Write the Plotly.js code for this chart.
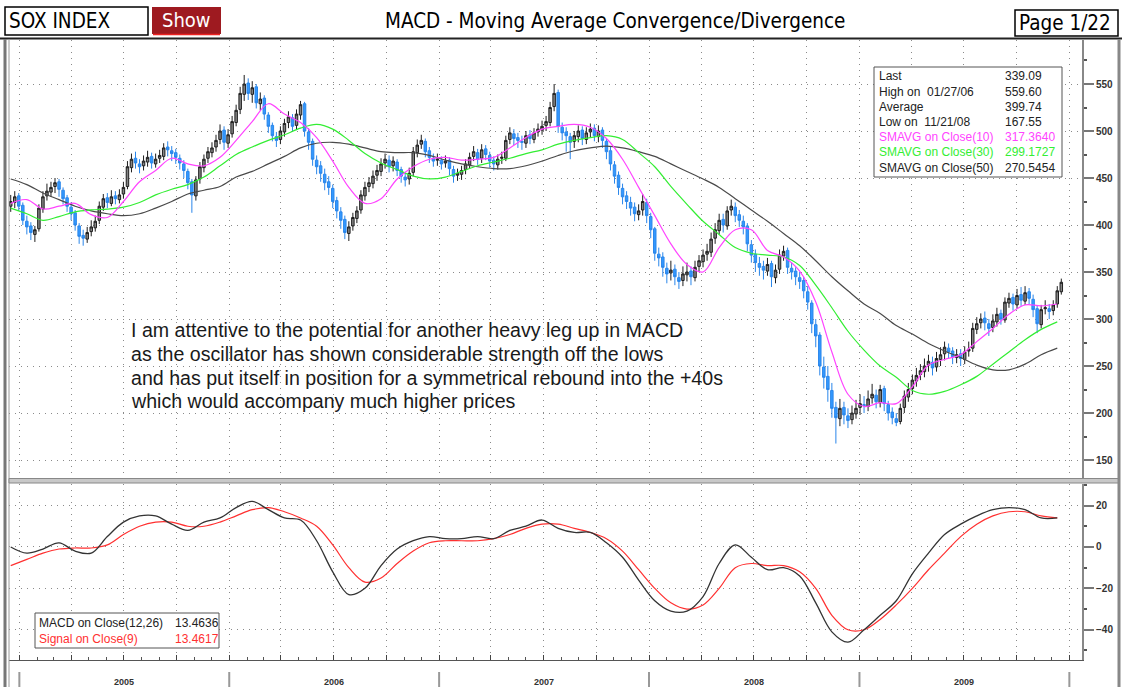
<!DOCTYPE html>
<html><head><meta charset="utf-8">
<script src="https://cdn.plot.ly/plotly-3.0.1.min.js"></script>
<style>html,body{margin:0;padding:0;background:#fff;}#chart{width:1122px;height:687px;}</style>
</head><body><div id="chart"></div>
<script>
// ---- DATA (weekly SOX index) ----
const firstWeek = '2004-12-17';
const closes = [
425,430,420,405,398,392,395,418,430,436,440,445,438,
428,420,412,400,388,386,392,398,404,420,428,424,430,
428,432,440,462,470,466,462,468,472,466,470,474,482,
480,476,472,466,458,445,432,448,462,470,478,482,490,
500,488,496,510,522,540,550,540,546,530,534,518,505,
495,490,500,508,515,505,518,528,500,488,470,462,455,
445,440,425,415,405,392,398,408,415,432,440,445,452,
458,465,470,462,468,458,452,448,455,478,485,490,478,
472,468,470,465,468,460,452,455,458,465,472,478,470,
480,475,468,465,470,472,490,498,492,490,488,495,492,
498,502,505,510,525,540,505,498,495,488,495,500,492,
498,502,495,500,490,478,465,452,440,430,425,418,412,
415,425,410,395,370,365,355,348,352,345,340,348,350,
345,355,362,368,372,385,395,405,400,415,420,410,405,
398,380,368,360,355,352,358,345,352,368,372,355,350,
345,340,330,318,295,282,250,238,225,205,195,205,198,
192,200,205,210,208,215,220,212,225,210,200,195,190,
205,218,225,235,240,245,250,255,248,258,262,270,265,
260,262,258,265,268,290,295,300,296,290,298,305,300,
318,322,316,325,320,328,322,310,295,310,312,308,315,330,339.09];
const opens = [
420,424,431,421,404,399,390,396,417,431,435,441,446,
437,429,419,413,399,389,385,393,397,405,419,429,423,
431,427,433,441,461,471,465,463,467,473,465,471,473,
483,479,477,471,465,457,446,431,449,461,471,477,483,
491,501,487,497,509,523,539,551,539,547,529,535,517,
506,494,491,499,509,514,506,517,529,499,489,469,463,
454,446,439,426,414,406,391,399,407,416,431,441,444,
453,457,466,469,463,467,459,451,449,456,477,486,489,
479,471,469,469,466,469,459,453,454,459,464,473,477,
471,481,474,469,464,471,471,491,497,493,489,487,496,
491,499,501,506,509,526,541,504,499,494,489,494,501,
491,499,503,494,501,489,479,464,453,439,431,424,419,
411,416,424,409,396,369,366,354,349,353,344,341,347,
351,344,356,361,369,371,386,394,406,399,416,419,411,
404,399,379,369,359,356,351,359,344,353,367,373,354,
351,344,341,329,317,294,283,249,239,224,206,194,206,
197,193,199,206,209,207,216,219,211,226,209,201,194,
191,206,217,226,234,241,244,251,254,249,257,263,269,
266,259,263,257,266,269,289,296,301,295,291,297,306,
299,317,323,315,326,319,329,321,311,294,311,311,309,316,329];
const highs = [
432,436,434,424,410,403,399,422,436,444,446,450,449,
440,432,424,416,402,395,398,405,410,425,433,434,437,
436,438,446,468,476,478,470,474,479,477,476,480,487,
489,484,481,475,469,460,449,452,467,475,483,488,496,
507,505,502,516,528,547,559.6,556,553,550,541,538,520,
509,499,505,513,521,518,523,532,531,503,492,474,468,
460,452,443,430,419,410,404,413,420,437,446,451,458,
464,471,476,474,473,470,462,456,461,483,491,496,492,
483,476,476,473,474,472,463,460,463,470,477,484,481,
486,485,478,473,475,478,495,504,502,498,495,500,501,
503,508,511,516,531,550,544,509,504,498,500,506,505,
504,508,507,506,504,492,483,468,457,444,436,430,424,
422,433,428,413,398,376,371,360,362,358,350,356,360,
356,362,368,374,380,392,402,412,412,420,427,424,416,
410,402,384,374,366,362,365,362,358,374,378,376,360,
355,350,345,335,320,300,286,260,250,232,212,215,212,
205,208,214,220,218,224,231,225,230,229,213,206,200,
210,224,232,241,248,252,258,262,260,265,270,276,274,
270,268,268,271,276,296,302,306,308,300,305,312,310,
323,328,327,332,334,335,333,326,314,315,320,316,320,335,343];
const lows = [
414,418,415,400,390,384,382,393,413,426,430,434,430,
422,414,405,394,380,378,381,388,393,401,415,418,420,
422,423,428,438,456,460,455,458,462,460,461,466,469,
473,468,465,459,450,438,413,426,444,456,466,472,478,
486,480,482,493,505,518,532,533,530,524,522,512,498,
489,483,486,494,503,499,501,512,494,480,463,454,446,
437,432,418,407,396,385,383,394,402,412,426,435,439,
447,452,460,456,457,452,445,441,443,452,472,481,472,
466,462,463,459,461,453,445,447,448,454,460,468,464,
466,469,461,458,459,465,468,486,485,482,480,482,486,
487,494,496,500,505,521,498,490,478,470,482,488,485,
486,493,489,488,482,470,458,444,432,422,417,410,404,
405,410,402,386,362,356,345,338,341,336,332,335,340,
336,340,350,355,362,366,380,390,392,395,410,403,398,
390,372,360,350,346,342,346,334,338,348,362,348,342,
336,332,322,310,285,270,240,226,212,195,167.55,186,188,
184,188,194,198,200,202,210,205,206,202,192,188,186,
188,200,212,220,228,235,238,244,240,244,250,256,258,
252,253,250,252,260,265,284,290,288,282,286,292,294,
296,312,309,311,314,315,316,302,285,290,305,300,304,312,326];
// moving averages and MACD, read every 4th week
const sma10 = [423,427,417,420,423,411,408,425,446,458,471,465,463,472,490,510,529,518,509,493,468,440,423,428,449,462,470,472,469,470,472,482,493,502,505,507,504,492,470,440,410,380,358,350,376,395,395,373,366,351,318,265,220,207,211,210,228,251,257,262,276,290,305,315,314,316];
const sma30 = [418,412,405,409,414,416,417,419,424,432,438,443,451,463,475,483,490,496,503,507,502,490,476,466,459,452,449,451,457,463,467,471,476,480,486,490,493,495,491,477,462,441,422,404,390,376,370,368,366,357,336,312,287,267,250,238,224,220,223,230,239,252,265,278,289,297];
const sma50 = [449,443,434,427,420,415,412,410,412,418,425,433,437,441,451,457,465,473,482,487,488,486,482,478,477,477,474,469,465,462,460,460,463,468,474,479,482,484,482,478,473,465,457,449,440,428,416,404,391,378,362,345,330,316,306,293,284,274,266,259,251,246,246,252,262,269];
const macd = [0,-3,-1,2,-2,-3,5,12,15,15,11,8,12,14,19,22,18,14,13,3,-12,-23,-20,-9,-1,3,5,4,4,5,4,8,10,13,9,7,7,2,-5,-16,-26,-31,-31,-24,-8,1,-5,-11,-10,-14,-27,-41,-46,-40,-33,-26,-13,-3,6,11,15,18,19,18,14,14];
const signal = [-9,-6,-3,-1,-0.5,-0.5,1,6,10,12,12,10,10,12,15,18,19,17,14,10,1,-10,-17,-15,-8,-2,2,3,3,3,4,6,9,11,11,9,7,4,-2,-11,-20,-27,-30,-28,-20,-10,-8,-9,-9,-12,-20,-33,-40,-40,-35,-28,-20,-11,-3,5,11,15,17,17,15,14];
const priceTicks = [150,200,250,300,350,400,450,500,550];
const macdTicks = [-40,-20,0,20];
const years = ['2005','2006','2007','2008','2009'];
const infoLabels = ['Last','High on  01/27/06','Average','Low on  11/21/08','SMAVG on Close(10)','SMAVG on Close(30)','SMAVG on Close(50)'];
const infoValues = ['339.09','559.60','399.74','167.55','317.3640','299.1727','270.5454'];
const macdLabels = ['MACD on Close(12,26)','Signal on Close(9)'];
const macdValues = ['13.4636','13.4617'];
const note = ['I am attentive to the potential for another heavy leg up in MACD','as the oscillator has shown considerable strength off the lows','and has put itself in position for a symmetrical rebound into the +40s','which would accompany much higher prices'];

// ---- build ----
const weeks = [];
const t0 = Date.parse(firstWeek + 'T00:00:00Z');
for (let i = 0; i < closes.length; i++) weeks.push(new Date(t0 + i * 7 * 86400000).toISOString().slice(0, 10));
const sampleDates = weeks.filter((d, i) => i % 4 === 0);

const W = 1122, H = 687, ML = 9, MR = 40, MT = 40, MB = 27;
const PW = W - ML - MR, PH = H - MT - MB;
const px = p => (p - ML) / PW;
const py = p => (H - MB - p) / PH;

const MAG = '#ff44ff', GRN = '#33ee33', DGR = '#4a4a4a', RED = '#ff3030';
const NARROW = '"Liberation Sans Narrow","DejaVu Sans Condensed","DejaVu Sans",sans-serif';
const ARIAL = '"Liberation Sans",Arial,sans-serif';

const traces = [
  {type: 'candlestick', x: weeks, open: opens, high: highs, low: lows, close: closes, xaxis: 'x2', yaxis: 'y',
   increasing: {line: {color: '#1e1e1e', width: 1}, fillcolor: '#858585'},
   decreasing: {line: {color: '#2a86ea', width: 1}, fillcolor: '#3399ff'},
   whiskerwidth: 0, hoverinfo: 'skip', showlegend: false},
  {type: 'scatter', mode: 'lines', x: sampleDates, y: sma50, xaxis: 'x2', yaxis: 'y', line: {color: DGR, width: 1.2, shape: 'spline'}, showlegend: false, hoverinfo: 'skip'},
  {type: 'scatter', mode: 'lines', x: sampleDates, y: sma30, xaxis: 'x2', yaxis: 'y', line: {color: GRN, width: 1.2, shape: 'spline'}, showlegend: false, hoverinfo: 'skip'},
  {type: 'scatter', mode: 'lines', x: sampleDates, y: sma10, xaxis: 'x2', yaxis: 'y', line: {color: MAG, width: 1.2, shape: 'spline'}, showlegend: false, hoverinfo: 'skip'},
  {type: 'scatter', mode: 'lines', x: sampleDates, y: signal, xaxis: 'x', yaxis: 'y2', line: {color: RED, width: 1.2, shape: 'spline'}, showlegend: false, hoverinfo: 'skip'},
  {type: 'scatter', mode: 'lines', x: sampleDates, y: macd, xaxis: 'x', yaxis: 'y2', line: {color: '#333333', width: 1.3, shape: 'spline'}, showlegend: false, hoverinfo: 'skip'}
];

const quarters = [];
for (let y = 2005; y <= 2010; y++) for (const m of ['01', '04', '07', '10']) { if (y === 2010 && m !== '01') continue; quarters.push(y + '-' + m + '-01'); }

const gridX = {type: 'date', range: ['2004-12-14', '2010-01-23'], tickmode: 'array', tickvals: quarters, ticktext: quarters.map(() => ''),
  showgrid: true, gridcolor: '#8a8a8a', griddash: '1px,5px', gridwidth: 1, zeroline: false, rangeslider: {visible: false}, fixedrange: true};

const layout = {
  width: W, height: H, margin: {l: ML, r: MR, t: MT, b: MB}, paper_bgcolor: '#fff', plot_bgcolor: '#fff',
  showlegend: false, hovermode: false, boxgap: 0.12,
  xaxis: Object.assign({}, gridX, {anchor: 'y2', ticks: 'inside', ticklen: 5, tickcolor: '#444', showline: true, linecolor: '#555', linewidth: 1,
    minor: {dtick: 'M1', tick0: '2005-01-01', ticks: 'inside', ticklen: 3, tickcolor: '#555', showgrid: false}}),
  xaxis2: Object.assign({}, gridX, {anchor: 'y', matches: 'x', ticks: '', showline: false}),
  yaxis: {domain: [py(478), 1], range: [130.9, 596.8], side: 'right', anchor: 'x2', tickmode: 'array', tickvals: priceTicks,
    ticks: 'outside', ticklen: 10, tickwidth: 2, tickcolor: '#777', showline: true, linecolor: '#888', linewidth: 2,
    tickfont: {family: ARIAL, size: 10, color: '#333', weight: 'bold'}, showgrid: true, gridcolor: '#8a8a8a', griddash: '1px,5px', zeroline: false,
    minor: {tickvals: [175, 225, 275, 325, 375, 425, 475, 525, 575], ticks: 'outside', ticklen: 3, tickwidth: 2, tickcolor: '#555', showgrid: false}, fixedrange: true},
  yaxis2: {domain: [0, py(484)], range: [-54.6, 30.4], side: 'right', anchor: 'x', tickmode: 'array', tickvals: macdTicks,
    ticks: 'outside', ticklen: 10, tickwidth: 2, tickcolor: '#777', showline: true, linecolor: '#888', linewidth: 2,
    tickfont: {family: ARIAL, size: 10, color: '#333', weight: 'bold'}, showgrid: true, gridcolor: '#8a8a8a', griddash: '1px,5px', zeroline: false,
    minor: {tickvals: [-50, -30, -10, 10, 30], ticks: 'outside', ticklen: 3, tickwidth: 2, tickcolor: '#555', showgrid: false}, fixedrange: true},
  shapes: [], annotations: []
};

const S = layout.shapes, A = layout.annotations;
// header
S.push({type: 'rect', xref: 'paper', yref: 'paper', x0: px(5), x1: px(148), y0: py(35), y1: py(7), line: {color: '#000', width: 1.5}, fillcolor: '#fff'});
S.push({type: 'rect', xref: 'paper', yref: 'paper', x0: px(152), x1: px(221), y0: py(34), y1: py(7), line: {width: 0}, fillcolor: '#9e1a20'});
S.push({type: 'line', xref: 'paper', yref: 'paper', x0: px(153), x1: px(220), y0: py(34.5), y1: py(34.5), line: {color: '#ee2222', width: 1.5}});
S.push({type: 'rect', xref: 'paper', yref: 'paper', x0: px(1015), x1: px(1118), y0: py(36), y1: py(10), line: {color: '#000', width: 1.5}, fillcolor: '#fff'});
S.push({type: 'line', xref: 'paper', yref: 'paper', x0: px(0), x1: px(1122), y0: py(38.5), y1: py(38.5), line: {color: '#222', width: 2}});
// frame
S.push({type: 'line', xref: 'paper', yref: 'paper', x0: px(5), x1: px(5), y0: py(39), y1: py(687), line: {color: '#777', width: 3}});
S.push({type: 'line', xref: 'paper', yref: 'paper', x0: px(9), x1: px(9), y0: py(39), y1: py(687), line: {color: '#9a9a9a', width: 1}});
S.push({type: 'line', xref: 'paper', yref: 'paper', x0: px(1119), x1: px(1119), y0: py(39), y1: py(687), line: {color: '#888', width: 3}});
S.push({type: 'rect', xref: 'paper', yref: 'paper', x0: px(9), x1: px(1118), y0: py(483), y1: py(478.5), line: {color: '#888', width: 1}, fillcolor: '#c8c8c8'});
// year separators
for (let y = 2005; y <= 2010; y++) S.push({type: 'line', xref: 'x', yref: 'paper', x0: y + '-01-01', x1: y + '-01-01', y0: py(672), y1: py(687), line: {color: '#999', width: 2}});
// info boxes
S.push({type: 'rect', xref: 'paper', yref: 'paper', x0: px(874), x1: px(1062), y0: py(177), y1: py(67), line: {color: '#555', width: 1}, fillcolor: '#fff'});
S.push({type: 'rect', xref: 'paper', yref: 'paper', x0: px(35), x1: px(219), y0: py(648), y1: py(613), line: {color: '#555', width: 1}, fillcolor: '#fff'});

A.push({xref: 'paper', yref: 'paper', x: px(7), y: py(21), xanchor: 'left', yanchor: 'middle', text: 'SOX INDEX', showarrow: false, font: {family: NARROW, size: 20.5, color: '#000'}});
A.push({xref: 'paper', yref: 'paper', x: px(186.5), y: py(20), xanchor: 'center', yanchor: 'middle', text: 'Show', showarrow: false, font: {family: NARROW, size: 20, color: '#fff'}});
A.push({xref: 'paper', yref: 'paper', x: px(615), y: py(21), xanchor: 'center', yanchor: 'middle', text: 'MACD - Moving Average Convergence/Divergence', showarrow: false, font: {family: NARROW, size: 20.5, color: '#000'}});
A.push({xref: 'paper', yref: 'paper', x: px(1017), y: py(23), xanchor: 'left', yanchor: 'middle', text: 'Page 1/22', showarrow: false, font: {family: NARROW, size: 20.5, color: '#000'}});

const infoColors = ['#222', '#222', '#222', '#222', MAG, GRN, '#222'];
infoLabels.forEach((t, i) => {
  const yy = py(76.5 + i * 15.2);
  A.push({xref: 'paper', yref: 'paper', x: px(877), y: yy, xanchor: 'left', yanchor: 'middle', text: t, showarrow: false, font: {family: ARIAL, size: 12, color: infoColors[i]}});
  A.push({xref: 'paper', yref: 'paper', x: px(1003), y: yy, xanchor: 'left', yanchor: 'middle', text: infoValues[i], showarrow: false, font: {family: ARIAL, size: 12, color: infoColors[i]}});
});
const mColors = ['#222', RED];
macdLabels.forEach((t, i) => {
  const yy = py(623 + i * 16);
  A.push({xref: 'paper', yref: 'paper', x: px(37), y: yy, xanchor: 'left', yanchor: 'middle', text: t, showarrow: false, font: {family: ARIAL, size: 12, color: mColors[i]}});
  A.push({xref: 'paper', yref: 'paper', x: px(173), y: yy, xanchor: 'left', yanchor: 'middle', text: macdValues[i], showarrow: false, font: {family: ARIAL, size: 12, color: mColors[i]}});
});
note.forEach((t, i) => {
  A.push({xref: 'paper', yref: 'paper', x: px(129), y: py(330 + i * 23.8), xanchor: 'left', yanchor: 'middle', text: t, showarrow: false, font: {family: ARIAL, size: 19.6, color: '#1a1a1a'}});
});
years.forEach(y => {
  A.push({xref: 'x', yref: 'paper', x: y + '-07-02', y: py(682), xanchor: 'center', yanchor: 'middle', text: y, showarrow: false, font: {family: ARIAL, size: 9, color: '#333', weight: 'bold'}});
});

Plotly.newPlot('chart', traces, layout, {staticPlot: true, displayModeBar: false});
</script></body></html>
